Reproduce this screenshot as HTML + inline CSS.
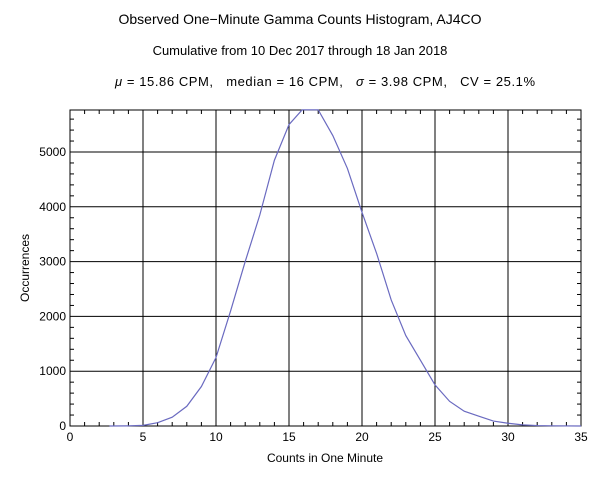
<!DOCTYPE html>
<html><head><style>body{margin:0;background:#fff}svg{display:block}text{font-family:"Liberation Sans",sans-serif;fill:#000;white-space:pre}</style></head><body>
<svg width="600" height="485" xmlns="http://www.w3.org/2000/svg">
<text x="300" y="24" font-size="14" text-anchor="middle">Observed One−Minute Gamma Counts Histogram, AJ4CO</text>
<text x="300" y="55" font-size="13" text-anchor="middle">Cumulative from 10 Dec 2017 through 18 Jan 2018</text>
<text x="115" y="86" font-size="13" textLength="420" lengthAdjust="spacing" xml:space="preserve"><tspan font-style="italic">μ</tspan> = 15.86 CPM,   median = 16 CPM,   <tspan font-style="italic">σ</tspan> = 3.98 CPM,   CV = 25.1%</text>
<g id="plot"></g>
<text x="325" y="462" font-size="12" text-anchor="middle">Counts in One Minute</text>
<text transform="translate(29,268) rotate(-90)" font-size="12" text-anchor="middle">Occurrences</text>
</svg>
<script>
const g=document.getElementById('plot');
const X=v=>70+v*14.6,Y=v=>426-v*0.0548;const L=70,R=581,T=110,B=426;
let s='';
s+=`<rect x="${L}" y="${T}" width="${R-L}" height="${B-T}" fill="none" stroke="#000" stroke-width="1"/>`;
for(let i=0;i<=35;i++){let x=X(i);if(i%5==0){s+=`<line x1="${x}" y1="${T}" x2="${x}" y2="${B}" stroke="#000"/>`;s+=`<text x="${x}" y="${B+15}" font-size="12" text-anchor="middle">${i}</text>`}else{s+=`<line x1="${x}" y1="${B}" x2="${x}" y2="${B-4}" stroke="#000"/><line x1="${x}" y1="${T}" x2="${x}" y2="${T+4}" stroke="#000"/>`}}
for(let v=0;v<=5700;v+=200){let y=Y(v);if(v%1000==0){s+=`<line x1="${L}" y1="${y}" x2="${R}" y2="${y}" stroke="#000"/>`;s+=`<text x="${L-4}" y="${y+4}" font-size="12" text-anchor="end">${v}</text>`}else{s+=`<line x1="${L}" y1="${y}" x2="${L+4}" y2="${y}" stroke="#000"/><line x1="${R}" y1="${y}" x2="${R-4}" y2="${y}" stroke="#000"/>`}}
const d=[[2.7,0],[4,3],[5,12],[6,60],[7,160],[8,360],[9,720],[10,1250],[11,2100],[12,3000],[13,3850],[14,4850],[15,5500],[15.9,5770],[17,5770],[18,5300],[19,4700],[20,3900],[21,3150],[22,2300],[23,1650],[24,1200],[25,750],[26,450],[27,270],[28,180],[29,90],[30,50],[31,20],[32,8],[33,3],[35,0]];
s+=`<polyline fill="none" stroke="#6a6ac0" stroke-width="1.2" points="${d.map(p=>X(p[0])+','+Y(p[1])).join(' ')}"/>`;
g.innerHTML=s;
</script>
</body></html>
